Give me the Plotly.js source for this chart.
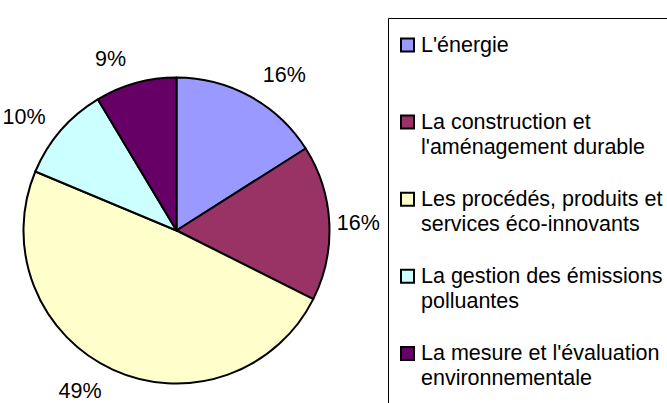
<!DOCTYPE html>
<html>
<head>
<meta charset="utf-8">
<script src="https://cdn.plot.ly/plotly-3.0.1.min.js"></script>
<style>html,body{margin:0;padding:0;background:#fff;}#chart{width:667px;height:403px;}</style>
</head>
<body>
<div id="chart"></div>
<script>
const categories = [
  "L'énergie",
  "La construction et<br>l'aménagement durable",
  "Les procédés, produits et<br>services éco-innovants",
  "La gestion des émissions<br>polluantes",
  "La mesure et l'évaluation<br>environnementale"
];
const shares = [16.0, 16.4, 48.9, 10.1, 8.6];
const sliceColors = ["#9999FF", "#993366", "#FFFFCC", "#CCFFFF", "#660066"];
// style: how far each percentage label sits beyond the rim (fraction of radius)
const labelPull = [0.09, 0.01, 0.08, 0.08, 0.085];

const FONT = "Liberation Sans, Arial, sans-serif";
const FS = 21.5;
const W = 667, H = 403;
const px = x => x / W;          // pixel -> paper x
const py = y => 1 - y / H;      // pixel -> paper y

// pie geometry (pixels): centre and radius
const cx = 176.5, cy = 230.5, R = 153;
const Rlab = R * (1 + Math.max(...labelPull));
const dom = r => ({ x: [px(cx - r), px(cx + r)], y: [py(cy + r), py(cy - r)] });

const data = [
  {
    type: "pie",
    labels: categories,
    values: shares,
    sort: false,
    direction: "clockwise",
    rotation: 0,
    marker: { colors: sliceColors, line: { color: "#000000", width: 2 } },
    textinfo: "none",
    textposition: "none",
    hoverinfo: "label+percent",
    domain: dom(R),
    showlegend: false
  },
  {
    // transparent companion pie that only carries the percentage labels
    type: "pie",
    labels: categories,
    values: shares,
    sort: false,
    direction: "clockwise",
    rotation: 0,
    pull: labelPull,
    marker: { colors: categories.map(() => "rgba(0,0,0,0)"), line: { width: 0 } },
    textposition: "outside",
    texttemplate: "%{percent:.0%}",
    textfont: { family: FONT, size: FS, color: "#000000" },
    hoverinfo: "skip",
    domain: dom(Rlab),
    showlegend: false
  }
];

// legend drawn as layout shapes + annotations, built from the category list
const legendLeft = 388.5, legendTop = 18.5;
const firstLine = 45, entryPitch = 77.1, linePitch = 25;
const shapes = [{
  type: "rect", xref: "paper", yref: "paper",
  x0: px(legendLeft), x1: 1.2, y0: -0.2, y1: py(legendTop),
  line: { color: "#000000", width: 1 }, fillcolor: "rgba(0,0,0,0)"
}];
const annotations = [];
categories.forEach((cat, i) => {
  const y0 = firstLine + i * entryPitch;
  shapes.push({
    type: "rect", xref: "paper", yref: "paper",
    x0: px(401), x1: px(414), y0: py(y0 + 6.5), y1: py(y0 - 6.5),
    line: { color: "#000000", width: 2 }, fillcolor: sliceColors[i]
  });
  cat.split("<br>").forEach((line, j) => {
    annotations.push({
      xref: "paper", yref: "paper",
      x: px(419), y: py(y0 + j * linePitch),
      xanchor: "left", yanchor: "middle",
      text: line, showarrow: false, align: "left",
      font: { family: FONT, size: FS, color: "#000000" }
    });
  });
});

const layout = {
  width: W,
  height: H,
  margin: { l: 0, r: 0, t: 0, b: 0, autoexpand: false },
  paper_bgcolor: "#ffffff",
  plot_bgcolor: "#ffffff",
  font: { family: FONT, size: FS, color: "#000000" },
  showlegend: false,
  shapes: shapes,
  annotations: annotations
};

Plotly.newPlot("chart", data, layout, { staticPlot: true, displayModeBar: false });
</script>
</body>
</html>
